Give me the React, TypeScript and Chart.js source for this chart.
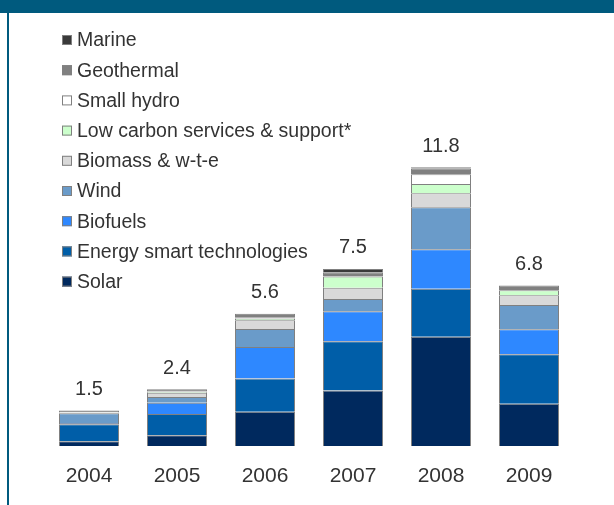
import React, { useEffect, useRef } from "react";
import { Chart, registerables } from "chart.js";

Chart.register(...registerables);

const categories = ["2004", "2005", "2006", "2007", "2008", "2009"];
const totalLabels = ["1.5", "2.4", "5.6", "7.5", "11.8", "6.8"];

const solar = [0.2, 0.45, 1.45, 2.35, 4.63, 1.79];
const energySmart = [0.72, 0.9, 1.41, 2.09, 2.03, 2.09];
const biofuels = [0.05, 0.48, 1.33, 1.27, 1.67, 1.06];
const wind = [0.42, 0.25, 0.76, 0.51, 1.78, 1.03];
const biomass = [0.03, 0.17, 0.37, 0.48, 0.59, 0.41];
const lowCarbon = [0.01, 0.06, 0.08, 0.48, 0.39, 0.22];
const smallHydro = [0.01, 0.02, 0.03, 0.0, 0.42, 0.0];
const geothermal = [0.06, 0.07, 0.17, 0.18, 0.24, 0.2];
const marine = [0.0, 0.0, 0.0, 0.14, 0.05, 0.0];

const seriesNames = [
  "Solar",
  "Energy smart technologies",
  "Biofuels",
  "Wind",
  "Biomass & w-t-e",
  "Low carbon services & support*",
  "Small hydro",
  "Geothermal",
  "Marine",
];
const seriesValues = [solar, energySmart, biofuels, wind, biomass, lowCarbon, smallHydro, geothermal, marine];
const seriesColors = [
  "#00295e",
  "#005ea8",
  "#2e88ff",
  "#6a9bc9",
  "#d9d9d9",
  "#ccffcc",
  "#ffffff",
  "#808080",
  "#3a3a3a",
];

const FONT = "'Liberation Sans', Arial, sans-serif";
const TEXT = "#333333";

const legendPlugin = {
  id: "vertLegend",
  afterDraw(chart: any) {
    const ctx = chart.ctx;
    const n = chart.data.datasets.length;
    ctx.save();
    ctx.font = `19.5px ${FONT}`;
    ctx.textBaseline = "middle";
    ctx.textAlign = "left";
    for (let k = 0; k < n; k++) {
      const ds = chart.data.datasets[n - 1 - k];
      const cy = 40 + k * 30.2;
      ctx.fillStyle = ds.backgroundColor;
      ctx.fillRect(62, cy - 5, 10, 10);
      ctx.strokeStyle = "#808080";
      ctx.lineWidth = 1;
      ctx.strokeRect(62.5, cy - 4.5, 9, 9);
      ctx.fillStyle = TEXT;
      ctx.fillText(ds.label, 77, cy + 1);
    }
    ctx.restore();
  },
};

const totalsPlugin = {
  id: "totals",
  afterDatasetsDraw(chart: any) {
    const ctx = chart.ctx;
    const xs = chart.scales.x;
    const ys = chart.scales.y;
    ctx.save();
    ctx.font = `20px ${FONT}`;
    ctx.textAlign = "center";
    ctx.textBaseline = "alphabetic";
    ctx.fillStyle = TEXT;
    categories.forEach((_, i) => {
      let sum = 0;
      chart.data.datasets.forEach((ds: any) => (sum += ds.data[i]));
      const x = xs.getPixelForValue(i);
      const y = ys.getPixelForValue(sum);
      ctx.fillText(totalLabels[i], x, y - 15.5);
    });
    ctx.restore();
  },
};

export default function App() {
  const ref = useRef<HTMLCanvasElement | null>(null);

  useEffect(() => {
    document.body.style.margin = "0";
    if (!ref.current) return;
    const chart = new Chart(ref.current, {
      type: "bar",
      data: {
        labels: categories,
        datasets: seriesValues.map((vals, i) => ({
          label: seriesNames[i],
          data: vals,
          backgroundColor: seriesColors[i],
          borderColor: "#808080",
          borderWidth: 1,
          categoryPercentage: 1,
          barPercentage: 60 / 88,
        })),
      },
      options: {
        animation: false,
        responsive: true,
        maintainAspectRatio: false,
        layout: { padding: { left: 45, right: 41, top: 139, bottom: 16 } },
        plugins: {
          legend: { display: false },
          tooltip: { enabled: false },
          title: { display: false },
        },
        scales: {
          x: {
            stacked: true,
            grid: { display: false, drawTicks: false },
            border: { display: false },
            ticks: { color: TEXT, font: { size: 21, family: FONT }, padding: 18 },
            afterFit: (scale: any) => {
              scale.height = 43;
            },
          },
          y: {
            stacked: true,
            display: false,
            min: 0,
            max: 13,
          },
        },
      },
      plugins: [legendPlugin, totalsPlugin],
    });
    return () => chart.destroy();
  }, []);

  return (
    <div style={{ position: "relative", width: 614, height: 505, background: "#ffffff", overflow: "hidden" }}>
      <div style={{ position: "absolute", left: 0, top: 0, width: 614, height: 13, background: "#005a7e" }} />
      <div style={{ position: "absolute", left: 7, top: 0, width: 2, height: 505, background: "#005a7e" }} />
      <div style={{ position: "absolute", left: 0, top: 0, width: 614, height: 505 }}>
        <canvas ref={ref} />
      </div>
    </div>
  );
}
